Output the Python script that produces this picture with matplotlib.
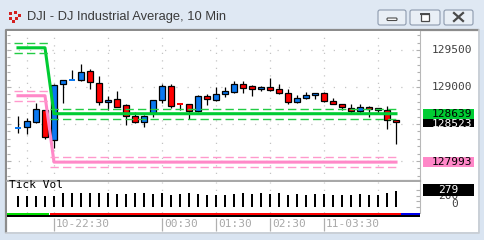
import matplotlib
matplotlib.use("Agg")
import matplotlib.pyplot as plt
from matplotlib.patches import Rectangle, FancyBboxPatch
import numpy as np

W, H = 484, 240

# 10 min bars, DJI
opens = [128440, 128455, 128531, 128685, 128280, 129036, 129090, 129099, 129212, 129054,
         128793, 128834, 128753, 128612, 128527, 128645, 128820, 129009, 128770, 128766,
         128672, 128874, 128829, 128901, 128937, 129041, 129014, 128969, 128996, 128969,
         128915, 128793, 128847, 128888, 128919, 128811, 128766, 128712, 128676, 128730,
         128712, 128685, 128554]
highs = [128608, 128577, 128780, 128690, 129041, 129095, 129230, 129311, 129239, 129145,
         128878, 128946, 128770, 128662, 128615, 128824, 129041, 129041, 128788, 128770,
         128892, 128905, 128996, 129000, 129081, 129077, 129027, 129014, 129126, 129041,
         128969, 128888, 128932, 128919, 128932, 128847, 128770, 128770, 128770, 128743,
         128714, 128743, 128556]
lows = [128378, 128361, 128518, 128293, 128172, 128780, 129088, 129085, 128977, 128761,
        128689, 128726, 128491, 128509, 128464, 128599, 128780, 128712, 128689, 128564,
        128658, 128761, 128807, 128869, 128923, 128915, 128882, 128942, 128946, 128901,
        128766, 128788, 128842, 128842, 128797, 128770, 128689, 128645, 128645, 128599,
        128653, 128432, 128234]
closes = [128445, 128541, 128699, 128320, 129023, 129091, 129097, 129199, 129064, 128793,
          128820, 128734, 128604, 128527, 128612, 128820, 129009, 128747, 128762, 128676,
          128874, 128834, 128901, 128942, 129041, 128991, 128969, 128996, 128955, 128915,
          128793, 128847, 128888, 128915, 128811, 128770, 128726, 128676, 128726, 128707,
          128685, 128554, 128523]
volumes = [192, 192, 192, 192, 192, 244, 250, 250, 244, 250,
           244, 227, 227, 244, 244, 227, 244, 215, 227, 244,
           227, 210, 210, 210, 227, 244, 227, 244, 227, 244,
           210, 227, 215, 227, 227, 210, 215, 210, 227, 215,
           215, 245, 279]

# level bands: two segments (bar index ranges)
seg_start = [0, 4]
seg_end = [3, 42]
green_mid = [129530, 128639]
green_up = [129595, 128707]
green_dn = [129460, 128571]
pink_mid = [128882, 127985]
pink_up = [128942, 128050]
pink_dn = [128811, 127915]

price_ticks = [129500, 129000, 128500]
green_label = 128639
pink_label = 127993
last_label = 128523
vol_label = 279
vol_ticks = [200, 0]

time_idx = [4, 16, 22, 28, 34]
time_labels = ["10-22:30", "00:30", "01:30", "02:30", "11-03:30"]
grid_idx = [1, 4, 10, 16, 22, 28, 34, 40]

session_edges = [-1.3, 3.5, 42.5, 44.8]
session_colors = ["#00dd00", "#ff0000", "#0000ee"]

MONO = "DejaVu Sans Mono"
BLUE = "#0a78f0"
RED = "#ff0000"
GREEN = "#00cc33"
PINK = "#ff88c8"


def box(x0, y0, x1, y1):
    return [x0 / W, 1 - y1 / H, (x1 - x0) / W, (y1 - y0) / H]


def p_of(y):
    return 129000 + (87 - y) * 500 / 37


XLIM = (-11 / 9, 402 / 9)

fig = plt.figure(figsize=(W / 100, H / 100), dpi=100)
fig.patch.set_facecolor("#d9e4f1")

# window chrome
ov = fig.add_axes([0, 0, 1, 1], zorder=-10)
ov.set_xlim(0, W)
ov.set_ylim(H, 0)
ov.axis("off")
ov.add_patch(Rectangle((0, 0), W, 30, color="#dfe8f3", lw=0))
ov.add_patch(Rectangle((7, 31), 471, 201, facecolor="white", edgecolor="none"))
ov.plot([6, 6, 478], [232, 30, 30], color="#8c8c8c", lw=1.6)
ov.plot([6, 479, 479], [233, 233, 30], color="#c8ccd2", lw=1.2)
for (x, y) in [(9, 12), (14, 11), (9, 17), (15, 17), (12, 20), (18, 14)]:
    ov.add_patch(Rectangle((x, y), 3, 3, color="#d42020", lw=0))
ov.text(27, 17, "DJI - DJ Industrial Average, 10 Min", fontsize=9.3,
        family="Liberation Sans", color="#3a3a3a", va="center", ha="left")
for (bx0, bx1) in [(378, 406), (410, 440), (444, 473)]:
    ov.add_patch(FancyBboxPatch((bx0, 10), bx1 - bx0, 15,
                                boxstyle="round,pad=0,rounding_size=2",
                                facecolor="#e9eff6", edgecolor="#8d9aae", lw=0.8))
ov.add_patch(FancyBboxPatch((387, 18), 10, 2.5, boxstyle="round,pad=0,rounding_size=1",
                            facecolor="white", edgecolor="#4a4a4a", lw=0.8))
ov.add_patch(Rectangle((421, 13.5), 8, 7, facecolor="white", edgecolor="#4a4a4a", lw=0.9))
ov.plot([421, 429], [14, 14], color="#4a4a4a", lw=1.4)
ov.plot([454, 463], [13, 21], color="#4a4a4a", lw=1.6)
ov.plot([454, 463], [21, 13], color="#4a4a4a", lw=1.6)

# price panel
pa = fig.add_axes(box(7, 31, 420, 181))
pa.set_xlim(*XLIM)
pa.set_ylim(p_of(181), p_of(31))
pa.set_facecolor("white")
for s in pa.spines.values():
    s.set_visible(False)
pa.spines["right"].set_visible(True)
pa.spines["right"].set_color("#b8b8b8")
pa.spines["bottom"].set_visible(True)
pa.spines["bottom"].set_color("#a8a8a8")
pa.spines["bottom"].set_linewidth(1.6)
pa.set_xticks([])
pa.set_yticks(np.arange(127800, 129800, 100), minor=True)
pa.set_yticks(price_ticks + [128000])
pa.yaxis.set_ticks_position("both")
pa.tick_params(axis="y", which="both", direction="in", length=3, color="#b0b0b0",
               labelleft=False, labelright=False, width=0.8)
pa.tick_params(axis="y", which="minor", length=2)
for t in price_ticks + [128000]:
    pa.axhline(t, color="#c4c4c4", lw=0.9, ls=(0, (1, 8)), zorder=0)
for g in grid_idx:
    pa.axvline(g, color="#c4c4c4", lw=0.9, ls=(0, (1, 5)), zorder=0)

idx = np.arange(len(opens))
pa.vlines(idx, lows, highs, color="black", lw=0.9, zorder=2)
for i, (o, c) in enumerate(zip(opens, closes)):
    col = BLUE if c >= o else RED
    if abs(c - o) < 15:
        pa.bar(i, 25, bottom=(o + c) / 2 - 12, width=0.7, color=col, lw=0, zorder=3)
    else:
        pa.bar(i, c - o, bottom=o, width=0.66, color=col, edgecolor="black",
               lw=0.9, zorder=3)

for mid, up, dn, solid_c, dash_c in [(green_mid, green_up, green_dn, GREEN, "#22cc44"),
                                     (pink_mid, pink_up, pink_dn, PINK, "#ff99cc")]:
    line = np.concatenate([[m] * (e - s + 1) for m, s, e in zip(mid, seg_start, seg_end)])
    pa.plot(np.arange(seg_start[0], seg_end[-1] + 1), line, color=solid_c, lw=2.2, zorder=4)
    for s, e, u, d in zip(seg_start, seg_end, up, dn):
        pa.hlines([u, d], s - 0.45, e + 0.45, color=dash_c, lw=1.0,
                  linestyles=(0, (6, 3)), zorder=4)

# price labels on the right
la = fig.add_axes(box(420, 31, 478, 181))
la.set_xlim(420, 478)
la.set_ylim(p_of(181), p_of(31))
la.axis("off")
for t in price_ticks:
    la.text(472, t, str(t), ha="right", va="center", fontsize=8, family=MONO,
            color="#404040")
bh = 10 * 500 / 37
la.add_patch(Rectangle((423, last_label - bh * 0.45), 51, bh * 0.9, color="black", lw=0, zorder=3))
la.text(472, last_label - bh * 0.2, str(last_label), ha="right", va="center", fontsize=8,
        family=MONO, color="white", zorder=3)
la.add_patch(Rectangle((423, green_label - bh / 2), 51, bh, color=GREEN, lw=0, zorder=4))
la.text(472, green_label, str(green_label), ha="right", va="center", fontsize=8,
        family=MONO, color="black", zorder=5)
la.add_patch(Rectangle((423, pink_label - bh / 2), 51, bh, color=PINK, lw=0, zorder=4))
la.text(472, pink_label, str(pink_label), ha="right", va="center", fontsize=8,
        family=MONO, color="black", zorder=5)

# volume panel
vscale = 279 / 16
va = fig.add_axes(box(7, 182, 420, 213))
va.set_xlim(*XLIM)
va.set_ylim(-6 * vscale, 25 * vscale)
va.set_facecolor("white")
for s in va.spines.values():
    s.set_visible(False)
va.spines["right"].set_visible(True)
va.spines["right"].set_color("#b8b8b8")
va.set_xticks([])
va.set_yticks([0, 100, 200, 300])
va.tick_params(axis="y", direction="in", length=3, color="#b0b0b0", labelleft=False,
               left=False, right=True)
for g in grid_idx:
    va.axvline(g, color="#c4c4c4", lw=0.9, ls=(0, (1, 5)), zorder=0)
va.bar(idx, volumes, width=0.33, color="black", zorder=3, antialiased=False)
va.text(-1.0, 22 * vscale, "Tick Vol", fontsize=8, family=MONO, color="black",
        va="center", ha="left")

vl = fig.add_axes(box(420, 182, 478, 213))
vl.set_xlim(420, 478)
vl.set_ylim(-6 * vscale, 25 * vscale)
vl.axis("off")
vl.text(458, vol_ticks[0] - 0.5 * vscale, str(vol_ticks[0]), ha="right", va="center",
        fontsize=8, family=MONO, color="#404040")
vl.text(458, vol_ticks[1] + 3 * vscale, str(vol_ticks[1]), ha="right", va="center",
        fontsize=8, family=MONO, color="#404040")
vh = 11.5 * vscale
vl.add_patch(Rectangle((423, 17 * vscale - vh / 2), 51, vh, color="black", lw=0, zorder=4))
vl.text(458, 17 * vscale, str(vol_label), ha="right", va="center", fontsize=8,
        family=MONO, color="white", zorder=5)

# session strip
sa = fig.add_axes(box(7, 212.5, 420, 216.5))
sa.set_xlim(*XLIM)
sa.set_ylim(0, 1)
sa.axis("off")
for x0, x1, c in zip(session_edges[:-1], session_edges[1:], session_colors):
    sa.axvspan(x0, x1, ymin=0.3, ymax=1, color=c, lw=0)
sa.axhspan(0, 0.3, color="black", lw=0)

# time axis
ta = fig.add_axes(box(7, 216.5, 420, 232))
ta.set_xlim(*XLIM)
ta.set_ylim(1, 0)
ta.axis("off")
for i, lab in zip(time_idx, time_labels):
    ta.vlines(i, 0.1, 0.95, color="#b0b0b0", lw=0.9)
    ta.text(i + 0.2, 0.5, lab, fontsize=8, family=MONO, color="#a8a8a8",
            va="center", ha="left")

fig.savefig("out.png", dpi=100, facecolor=fig.get_facecolor())
